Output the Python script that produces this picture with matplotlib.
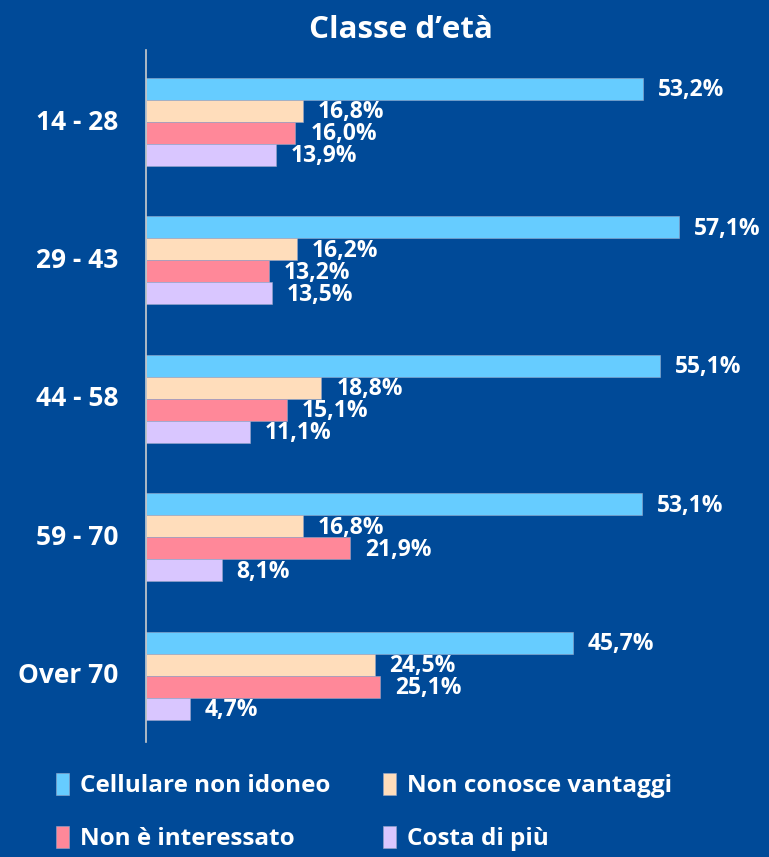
import numpy as np
import matplotlib.pyplot as plt

classi = ['14 - 28', '29 - 43', '44 - 58', '59 - 70', 'Over 70']
cellulare = [53.2, 57.1, 55.1, 53.1, 45.7]
vantaggi = [16.8, 16.2, 18.8, 16.8, 24.5]
interessato = [16.0, 13.2, 15.1, 21.9, 25.1]
costa = [13.9, 13.5, 11.1, 8.1, 4.7]

serie = ['Cellulare non idoneo', 'Non conosce vantaggi', 'Non è interessato', 'Costa di più']
colori = ['#66CCFF', '#FFDDBB', '#FF8899', '#D9C6FF']
bg = '#004A98'

plt.rcParams['font.family'] = ['Open Sans', 'DejaVu Sans']
plt.rcParams['font.weight'] = 'bold'

fig = plt.figure(figsize=(7.69, 8.57), dpi=100, facecolor=bg)
ax = fig.add_axes([146/769, 115/857, 616/769, 692/857])
ax.set_facecolor(bg)

y = np.arange(len(classi))
h = 0.159
valori = [cellulare, vantaggi, interessato, costa]
handles = []
for i, (vals, col, nome) in enumerate(zip(valori, colori, serie)):
    pos = y - 1.5*h + i*h + 0.02
    b = ax.barh(pos, vals, height=h, color=col, label=nome, edgecolor='#9aa8c8', linewidth=0.4)
    handles.append(b)
    for p, v in zip(pos, vals):
        ax.text(v + 1.6, p + 0.01, f'{v:.1f}%'.replace('.', ','), va='center', ha='left',
                color='white', fontsize=16.5, fontweight='bold')

ax.set_xlim(0, 66)
ax.set_ylim(4.5, -0.5)
ax.set_xticks([])
ax.set_yticks(y)
ax.set_yticklabels(classi, fontsize=19, fontweight='bold', color='white')
ax.tick_params(axis='y', length=0, pad=20)
for s in ['top', 'right', 'bottom']:
    ax.spines[s].set_visible(False)
ax.spines['left'].set_color('#cccccc')
ax.spines['left'].set_linewidth(1.2)

fig.text(401/769, 1 - 30/857, 'Classe d\u2019età', ha='center', va='center',
         color='white', fontsize=22.5, fontweight='bold')

ordine = [0, 2, 1, 3]
leg = fig.legend([handles[k] for k in ordine], [serie[k] for k in ordine],
                 loc='lower left', bbox_to_anchor=(34/769, -16/857), ncol=2, frameon=False,
                 fontsize=17.5, labelcolor='white', handlelength=0.55, handleheight=1.0,
                 handletextpad=0.45, columnspacing=2.15, labelspacing=1.15)
for t in leg.get_texts():
    t.set_fontweight('bold')

fig.savefig('out.png', dpi=100, facecolor=bg)
